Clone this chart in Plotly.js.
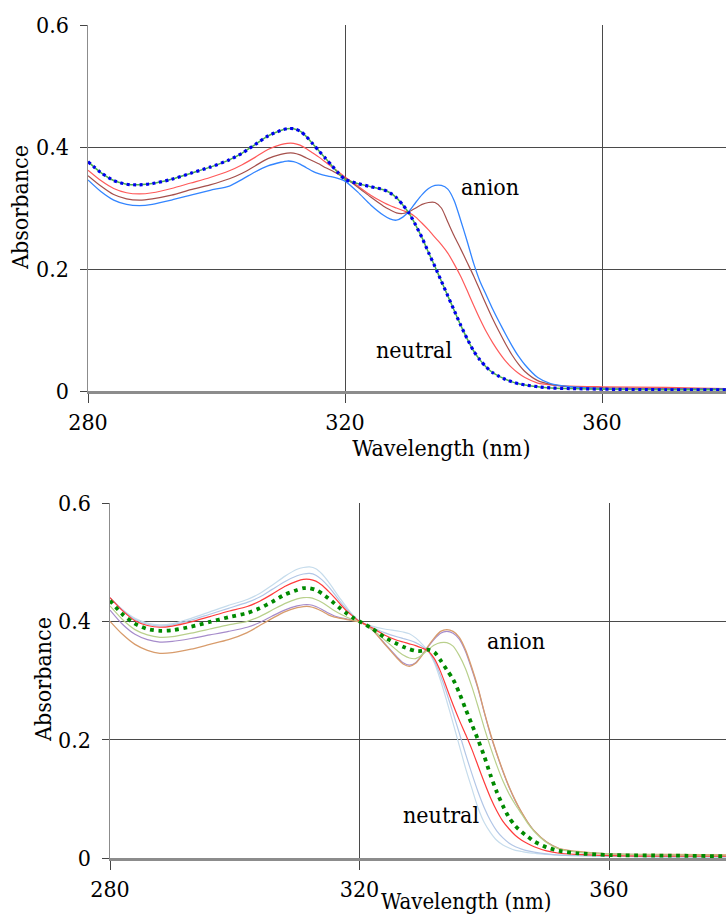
<!DOCTYPE html>
<html>
<head>
<meta charset="utf-8">
<script src="https://cdn.plot.ly/plotly-3.0.1.min.js"></script>
<style>
html, body { margin: 0; padding: 0; overflow: hidden; background: #fff; }
#chart { width: 820px; height: 918px; }
</style>
</head>
<body>
<div id="chart"></div>
<script>
// Wavelength grid (nm), shared by all spectra
const wavelength = [280,282,284,286,288,290,293,296,299,302,304,306,308,310,311,312,313,314,315,316,317,318,319,320,322,324,326,327,328,329,330,331,332,333,334,335,336,337,338,339,340,341,342,343,344,345,346,347,348,350,352,355,360,370,380,390];

// ---- Top panel spectra ----
const topNeutralGreen = [0.376,0.358,0.345,0.339,0.338,0.340,0.347,0.357,0.367,0.379,0.390,0.404,0.418,0.427,0.430,0.430,0.426,0.417,0.405,0.393,0.381,0.369,0.357,0.347,0.340,0.335,0.330,0.325,0.317,0.305,0.291,0.272,0.251,0.227,0.204,0.180,0.156,0.132,0.108,0.086,0.066,0.051,0.039,0.030,0.024,0.019,0.015,0.012,0.010,0.007,0.005,0.004,0.003,0.002,0.002,0.002];
const topRed = [0.362,0.345,0.332,0.325,0.323,0.325,0.332,0.341,0.350,0.361,0.371,0.383,0.396,0.404,0.406,0.406,0.403,0.397,0.390,0.383,0.375,0.367,0.359,0.351,0.336,0.321,0.309,0.304,0.300,0.296,0.292,0.285,0.275,0.264,0.252,0.240,0.226,0.208,0.188,0.165,0.141,0.118,0.097,0.079,0.063,0.049,0.038,0.029,0.022,0.013,0.010,0.008,0.007,0.006,0.004,0.004];
const topBrown = [0.353,0.336,0.322,0.315,0.313,0.315,0.321,0.330,0.338,0.348,0.357,0.369,0.381,0.388,0.390,0.390,0.387,0.382,0.377,0.372,0.366,0.361,0.355,0.349,0.334,0.318,0.303,0.297,0.292,0.291,0.294,0.300,0.306,0.309,0.309,0.300,0.277,0.254,0.233,0.211,0.189,0.165,0.141,0.118,0.097,0.077,0.059,0.044,0.032,0.017,0.011,0.007,0.005,0.004,0.004,0.004];
const topAnionBlue = [0.346,0.327,0.313,0.306,0.304,0.306,0.313,0.321,0.329,0.336,0.347,0.359,0.369,0.375,0.377,0.376,0.372,0.366,0.360,0.356,0.353,0.351,0.348,0.344,0.326,0.305,0.288,0.282,0.280,0.285,0.295,0.309,0.322,0.332,0.337,0.337,0.331,0.312,0.280,0.246,0.210,0.180,0.157,0.134,0.113,0.093,0.074,0.057,0.043,0.022,0.012,0.007,0.004,0.003,0.003,0.003];

// ---- Bottom panel spectra ----
const botLightBlue1 = [0.440,0.420,0.405,0.397,0.394,0.396,0.405,0.416,0.427,0.437,0.447,0.461,0.476,0.488,0.491,0.492,0.489,0.480,0.467,0.452,0.437,0.423,0.410,0.400,0.392,0.387,0.384,0.382,0.379,0.372,0.362,0.350,0.330,0.300,0.265,0.228,0.190,0.152,0.118,0.085,0.060,0.043,0.030,0.022,0.017,0.013,0.011,0.009,0.008,0.006,0.005,0.004,0.003,0.002,0.002,0.002];
const botLightBlue2 = [0.440,0.419,0.403,0.395,0.392,0.394,0.402,0.412,0.422,0.432,0.441,0.454,0.467,0.477,0.480,0.481,0.478,0.470,0.459,0.446,0.432,0.420,0.409,0.400,0.390,0.381,0.374,0.371,0.368,0.364,0.358,0.350,0.333,0.308,0.278,0.245,0.211,0.176,0.143,0.112,0.085,0.063,0.046,0.034,0.025,0.019,0.015,0.012,0.010,0.007,0.005,0.004,0.003,0.002,0.002,0.002];
const botRed = [0.440,0.418,0.401,0.393,0.390,0.392,0.399,0.408,0.417,0.425,0.434,0.446,0.459,0.468,0.471,0.471,0.468,0.461,0.451,0.440,0.428,0.417,0.408,0.400,0.389,0.377,0.368,0.365,0.362,0.359,0.355,0.350,0.337,0.315,0.287,0.259,0.233,0.209,0.184,0.156,0.128,0.102,0.080,0.062,0.049,0.038,0.030,0.024,0.019,0.012,0.008,0.006,0.004,0.003,0.003,0.003];
const botMidGreen = [0.435,0.412,0.396,0.387,0.384,0.385,0.391,0.399,0.407,0.414,0.422,0.433,0.445,0.453,0.456,0.456,0.453,0.447,0.439,0.430,0.421,0.413,0.406,0.400,0.388,0.373,0.362,0.357,0.353,0.350,0.350,0.352,0.348,0.334,0.318,0.302,0.279,0.252,0.226,0.200,0.172,0.140,0.112,0.088,0.068,0.054,0.044,0.036,0.028,0.018,0.012,0.008,0.005,0.004,0.003,0.003];
const botOlive = [0.426,0.403,0.386,0.377,0.373,0.374,0.380,0.387,0.394,0.400,0.408,0.419,0.430,0.438,0.440,0.440,0.437,0.432,0.425,0.418,0.412,0.407,0.403,0.400,0.387,0.369,0.351,0.343,0.338,0.337,0.343,0.352,0.360,0.364,0.364,0.358,0.342,0.320,0.290,0.256,0.220,0.187,0.157,0.130,0.108,0.090,0.074,0.058,0.045,0.026,0.015,0.010,0.007,0.005,0.004,0.004];
const botPurple = [0.419,0.395,0.378,0.369,0.365,0.366,0.371,0.377,0.383,0.390,0.398,0.409,0.419,0.426,0.428,0.428,0.425,0.420,0.414,0.409,0.406,0.404,0.402,0.400,0.386,0.363,0.340,0.330,0.326,0.330,0.343,0.357,0.370,0.380,0.383,0.380,0.370,0.349,0.319,0.286,0.246,0.208,0.176,0.146,0.119,0.096,0.077,0.060,0.046,0.027,0.016,0.010,0.007,0.005,0.004,0.004];
const botAnionOrange = [0.400,0.378,0.361,0.351,0.346,0.347,0.353,0.361,0.369,0.381,0.393,0.405,0.416,0.423,0.425,0.425,0.422,0.417,0.411,0.407,0.405,0.403,0.401,0.399,0.386,0.362,0.338,0.328,0.324,0.329,0.342,0.358,0.372,0.383,0.386,0.383,0.373,0.352,0.322,0.288,0.247,0.210,0.177,0.147,0.120,0.097,0.077,0.060,0.046,0.027,0.016,0.011,0.007,0.006,0.005,0.005];

const xTickLabels = ['280','320','360'];
const yTickLabels = ['0','0.2','0.4','0.6'];

function line(y, color, width, xa, ya, dash) {
  return {
    x: wavelength, y: y, type: 'scatter', mode: 'lines',
    xaxis: xa, yaxis: ya, hoverinfo: 'skip',
    line: { color: color, width: width, shape: 'spline', smoothing: 0.7, dash: dash || 'solid' }
  };
}

const traces = [
  line(topRed, '#ff5a5a', 1.2, 'x', 'y'),
  line(topBrown, '#a5504c', 1.2, 'x', 'y'),
  line(topAnionBlue, '#3385ff', 1.3, 'x', 'y'),
  line(topNeutralGreen, '#4caf50', 1.5, 'x', 'y'),
  line(topNeutralGreen, '#0000ee', 3.2, 'x', 'y', '3px,3.5px'),

  line(botLightBlue1, '#c6dcec', 1.2, 'x2', 'y2'),
  line(botLightBlue2, '#b2c6e6', 1.2, 'x2', 'y2'),
  line(botPurple, '#a68ccb', 1.2, 'x2', 'y2'),
  line(botAnionOrange, '#d89c6c', 1.3, 'x2', 'y2'),
  line(botOlive, '#b9d08c', 1.2, 'x2', 'y2'),
  line(botRed, '#ff3b3b', 1.2, 'x2', 'y2'),
  line(botMidGreen, '#008a00', 3.8, 'x2', 'y2', '3.8px,4.6px')
];

const W = 820, H = 918;
const font = { family: '"DejaVu Serif Condensed", "DejaVu Serif", serif', size: 23, color: '#000' };
const bottomTitleFont = { family: font.family, size: 22, color: '#000' };

function xAxis(l, r, anchor, titleText) {
  return {
    domain: [l / W, r / W], anchor: anchor,
    range: [280, 390], tickmode: 'array', tickvals: xTickLabels.map(Number), ticktext: xTickLabels,
    showgrid: true, gridcolor: '#4a4a4a', gridwidth: 1,
    showline: true, linecolor: '#8c8c8c', linewidth: 2.5,
    ticks: 'outside', ticklen: 9, tickcolor: '#444', tickwidth: 1,
    zeroline: false, tickfont: font, ticklabelstandoff: 0,
    title: { text: titleText, font: font, standoff: 0 },
    fixedrange: true
  };
}
function yAxis(bottomPx, topPx, anchor) {
  return {
    domain: [(H - bottomPx) / H, (H - topPx) / H], anchor: anchor,
    range: [0, 0.6], tickmode: 'array', tickvals: yTickLabels.map(Number), ticktext: yTickLabels,
    showgrid: true, gridcolor: '#4a4a4a', gridwidth: 1,
    showline: true, linecolor: '#8c8c8c', linewidth: 1.5,
    ticks: 'outside', ticklen: 7, tickcolor: '#444', tickwidth: 1,
    zeroline: false, tickfont: font, ticklabelstandoff: 6,
    fixedrange: true
  };
}

const layout = {
  width: W, height: H,
  margin: { l: 0, r: 0, t: 0, b: 0 },
  paper_bgcolor: '#fff', plot_bgcolor: '#fff',
  showlegend: false, hovermode: false,
  font: font,
  xaxis: xAxis(88, 88 + 110 * 6.425, 'y', 'Wavelength (nm)'),
  yaxis: yAxis(391, 25, 'x'),
  xaxis2: xAxis(110, 110 + 110 * 6.2375, 'y2', ''),
  yaxis2: yAxis(858, 503, 'x2'),
  annotations: [
    // bottom x-axis title
    { xref: 'paper', yref: 'paper', x: 467 / W, y: 2 / H, text: 'Wavelength (nm)', showarrow: false, font: bottomTitleFont, xanchor: 'center', yanchor: 'bottom' },
    // y-axis titles
    { xref: 'paper', yref: 'paper', x: 20 / W, y: (H - 208) / H, text: 'Absorbance', textangle: -90, showarrow: false, font: font, xanchor: 'center', yanchor: 'middle' },
    { xref: 'paper', yref: 'paper', x: 43 / W, y: (H - 680) / H, text: 'Absorbance', textangle: -90, showarrow: false, font: font, xanchor: 'center', yanchor: 'middle' },
    // curve labels
    { xref: 'x', yref: 'y', x: 342.6, y: 0.334, text: 'anion', showarrow: false, font: font },
    { xref: 'x', yref: 'y', x: 330.7, y: 0.068, text: 'neutral', showarrow: false, font: font },
    { xref: 'x2', yref: 'y2', x: 345.1, y: 0.367, text: 'anion', showarrow: false, font: font },
    { xref: 'x2', yref: 'y2', x: 333.1, y: 0.073, text: 'neutral', showarrow: false, font: font }
  ]
};

Plotly.newPlot('chart', traces, layout, { staticPlot: true, displayModeBar: false });
</script>
</body>
</html>
